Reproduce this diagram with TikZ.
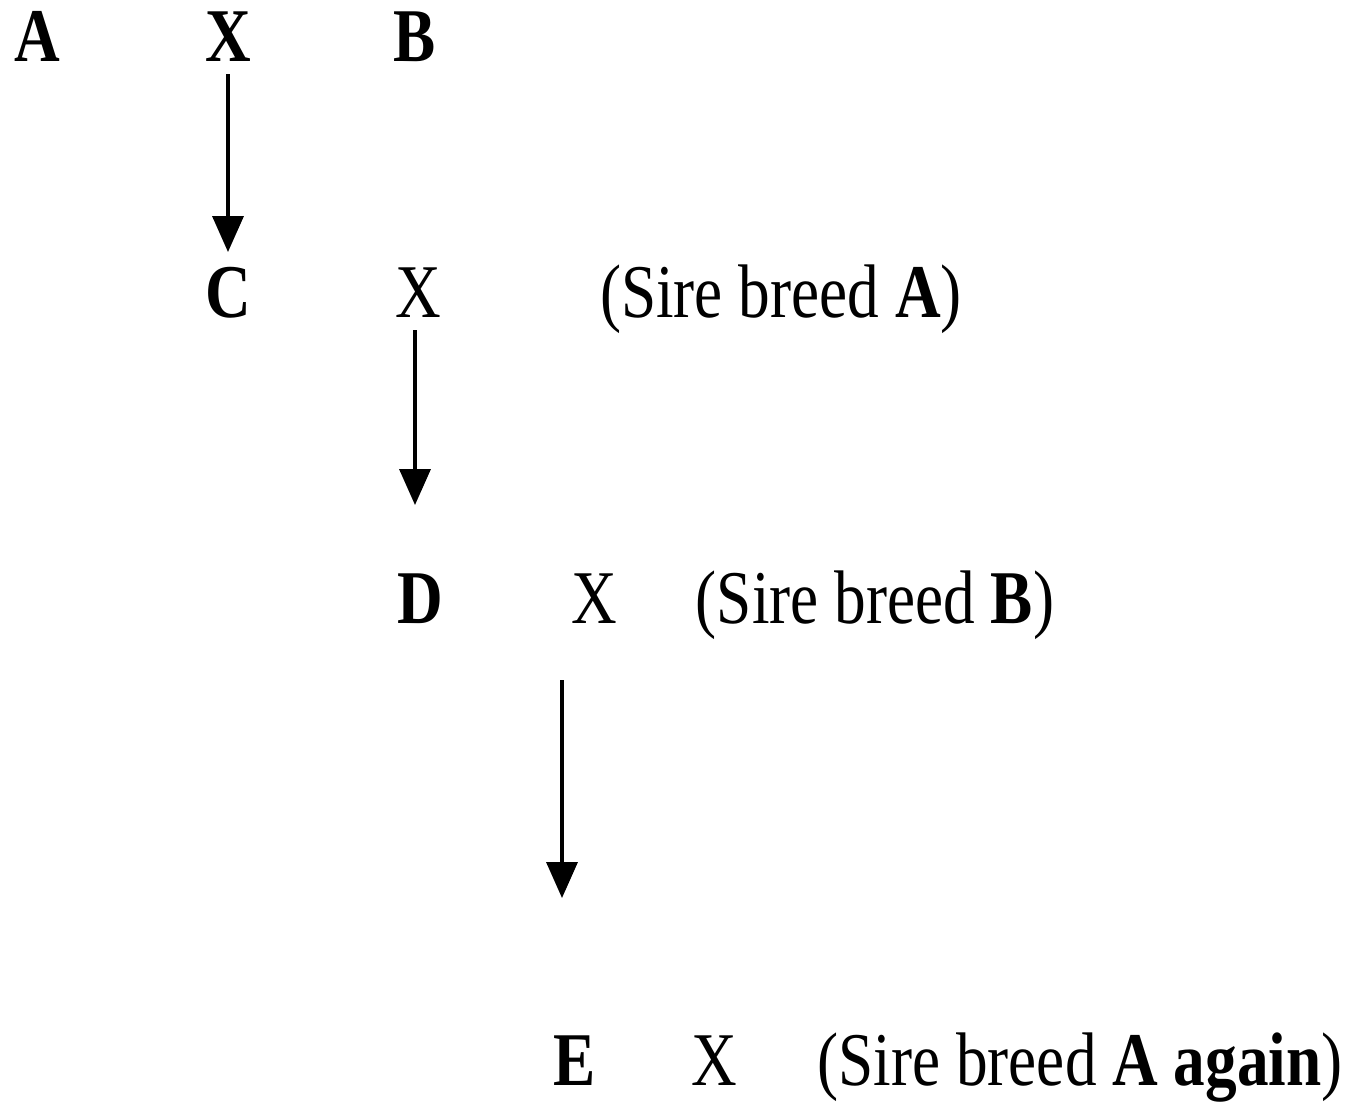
\documentclass[tikz,border=0pt]{standalone}
\usepackage{fontspec}
\usepackage{graphicx}
\setmainfont{Liberation Serif}
\usetikzlibrary{arrows.meta}
% condensed, tall lettering
\newcommand{\tall}[1]{\scalebox{1}[1.2]{#1}}
\begin{document}
\begin{tikzpicture}[x=0.02cm,y=-0.02cm,
  lbl/.style={inner sep=0pt, anchor=base, font=\fontsize{36}{40}\selectfont},
  cross/.style={-{Triangle[width=0.62cm,length=0.72cm]}, line width=2pt}]
\useasboundingbox (0,0) rectangle (1354,1103);
% parent breeds
\node[lbl] (a)  at (37,61)  {\tall{\textbf{A}}};
\node[lbl] (x1) at (228,61) {\tall{\textbf{X}}};
\node[lbl] (b)  at (415,61) {\tall{\textbf{B}}};
% first cross
\node[lbl] (c)  at (228,317) {\tall{\textbf{C}}};
\node[lbl] (x2) at (418,317) {\tall{X}};
\node[lbl] (s1) at (781,317) {\tall{(Sire breed \textbf{A})}};
% second cross
\node[lbl] (d)  at (420,623) {\tall{\textbf{D}}};
\node[lbl] (x3) at (594,623) {\tall{X}};
\node[lbl] (s2) at (875,623) {\tall{(Sire breed \textbf{B})}};
% third cross
\node[lbl] (e)  at (575,1085) {\tall{\textbf{E}}};
\node[lbl] (x4) at (714,1085) {\tall{X}};
\node[lbl] (s3) at (1080,1085) {\tall{(Sire breed \textbf{A again})}};
% connectors
\coordinate (t1) at (228,74);  \coordinate (h1) at (228,252);
\coordinate (t2) at (415,330); \coordinate (h2) at (415,505);
\coordinate (t3) at (562,680); \coordinate (h3) at (562,898);
\draw[cross] (t1) -- (h1);
\draw[cross] (t2) -- (h2);
\draw[cross] (t3) -- (h3);
\end{tikzpicture}
\end{document}
